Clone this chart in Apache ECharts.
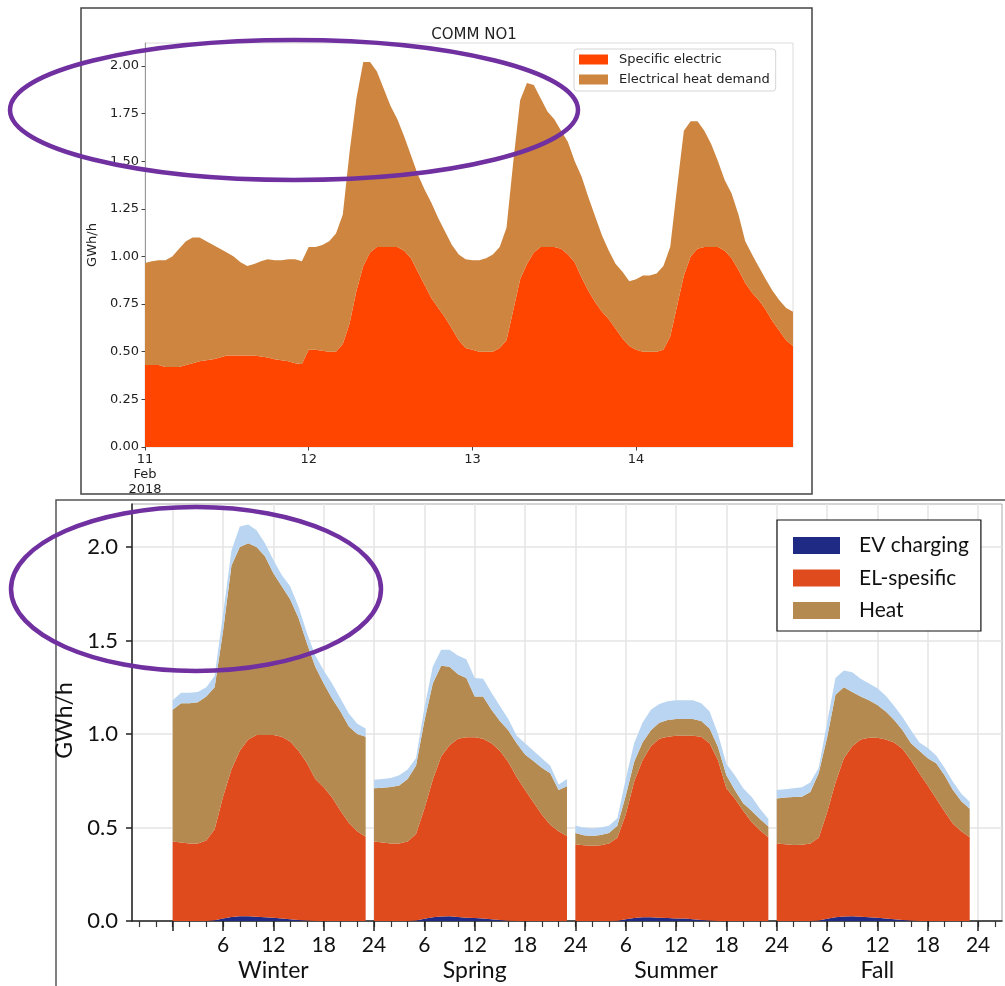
<!DOCTYPE html>
<html><head><meta charset="utf-8">
<script src="https://cdn.jsdelivr.net/npm/echarts@6/dist/echarts.min.js"></script>
<style>html,body{margin:0;padding:0;background:#fff}#c{width:1005px;height:986px}</style>
</head><body><div id="c"></div>
<script>
// ---------------- TOP CHART (COMM NO1) ----------------
const topTitle = 'COMM NO1';
const topDays = ['11', '12', '13', '14'];
const topMonth = 'Feb', topYear = '2018';
const topYTicks = [0, 0.25, 0.5, 0.75, 1.0, 1.25, 1.5, 1.75, 2.0];
// hourly GWh/h, one array per day
const spec11 = [0.43,0.43,0.43,0.42,0.42,0.42,0.43,0.44,0.45,0.455,0.46,0.47,0.48,0.48,0.48,0.48,0.48,0.475,0.47,0.46,0.455,0.45,0.44,0.435];
const spec12 = [0.51,0.51,0.505,0.50,0.50,0.54,0.65,0.82,0.95,1.02,1.05,1.05,1.05,1.05,1.03,0.99,0.92,0.85,0.78,0.73,0.68,0.62,0.56,0.52];
const spec13 = [0.51,0.50,0.50,0.50,0.52,0.56,0.72,0.88,0.96,1.02,1.05,1.05,1.05,1.04,1.01,0.97,0.89,0.82,0.76,0.71,0.67,0.62,0.57,0.53];
const spec14 = [0.51,0.50,0.50,0.50,0.51,0.58,0.74,0.90,1.00,1.04,1.05,1.05,1.05,1.03,0.99,0.93,0.86,0.81,0.77,0.72,0.66,0.61,0.56,0.53];
const heat11 = [0.535,0.545,0.55,0.56,0.58,0.62,0.65,0.66,0.65,0.625,0.60,0.57,0.54,0.52,0.49,0.47,0.48,0.50,0.515,0.52,0.525,0.535,0.545,0.54];
const heat12 = [0.54,0.54,0.555,0.58,0.62,0.68,0.90,1.01,1.07,1.00,0.92,0.83,0.74,0.67,0.60,0.54,0.51,0.50,0.50,0.47,0.45,0.44,0.45,0.465];
const heat13 = [0.47,0.48,0.49,0.51,0.53,0.59,0.78,0.94,0.95,0.88,0.78,0.71,0.67,0.62,0.59,0.53,0.53,0.49,0.45,0.40,0.36,0.34,0.35,0.34];
const heat14 = [0.37,0.40,0.40,0.41,0.44,0.47,0.62,0.76,0.71,0.67,0.61,0.54,0.45,0.37,0.34,0.29,0.22,0.20,0.175,0.16,0.16,0.16,0.17,0.18];

// ---------------- BOTTOM CHART (seasonal profiles) ----------------
const seasons = ['Winter', 'Spring', 'Summer', 'Fall'];
const hourTickLabels = [6, 12, 18, 24];
const bottomYTicks = [0, 0.5, 1.0, 1.5, 2.0];
const evWinter = [0,0,0,0,0,0.004,0.014,0.022,0.025,0.025,0.023,0.02,0.017,0.014,0.01,0.006,0.003,0,0,0,0,0,0,0];
const evSpring = [0,0,0,0,0,0.003,0.012,0.02,0.024,0.025,0.022,0.018,0.016,0.013,0.009,0.005,0.002,0,0,0,0,0,0,0];
const evSummer = [0,0,0,0,0,0.002,0.01,0.016,0.02,0.02,0.018,0.016,0.014,0.013,0.01,0.006,0.003,0,0,0,0,0,0,0];
const evFall   = [0,0,0,0,0,0.003,0.012,0.02,0.024,0.025,0.023,0.02,0.017,0.014,0.01,0.006,0.003,0,0,0,0,0,0,0];
const elWinter = [0.425,0.42,0.415,0.415,0.43,0.486,0.651,0.788,0.885,0.945,0.972,0.975,0.978,0.971,0.95,0.904,0.842,0.76,0.715,0.66,0.59,0.525,0.48,0.45];
const elSpring = [0.425,0.42,0.415,0.415,0.425,0.462,0.588,0.735,0.856,0.915,0.953,0.964,0.966,0.962,0.941,0.905,0.848,0.77,0.70,0.635,0.57,0.515,0.48,0.455];
const elSummer = [0.41,0.405,0.403,0.405,0.415,0.443,0.56,0.729,0.84,0.915,0.957,0.969,0.976,0.977,0.98,0.979,0.947,0.86,0.71,0.655,0.59,0.53,0.485,0.448];
const elFall   = [0.415,0.41,0.406,0.408,0.415,0.442,0.568,0.72,0.846,0.91,0.947,0.96,0.963,0.956,0.945,0.914,0.857,0.79,0.725,0.655,0.585,0.52,0.48,0.448];
const heatWinter = [0.705,0.745,0.75,0.755,0.77,0.76,0.885,1.09,1.09,1.05,1.005,0.955,0.865,0.805,0.76,0.71,0.64,0.60,0.555,0.53,0.53,0.515,0.52,0.535];
const heatSpring = [0.285,0.293,0.302,0.31,0.335,0.365,0.47,0.515,0.485,0.42,0.345,0.318,0.218,0.225,0.18,0.16,0.17,0.18,0.19,0.22,0.25,0.275,0.22,0.265];
const heatSummer = [0.06,0.053,0.052,0.055,0.055,0.065,0.10,0.105,0.095,0.085,0.085,0.09,0.09,0.09,0.09,0.085,0.08,0.07,0.07,0.045,0.04,0.06,0.06,0.057];
const heatFall   = [0.24,0.25,0.257,0.257,0.275,0.345,0.40,0.47,0.38,0.29,0.23,0.20,0.175,0.15,0.12,0.10,0.09,0.12,0.145,0.188,0.195,0.18,0.16,0.152];
const otherWinter = [0.05,0.055,0.055,0.055,0.05,0.06,0.09,0.08,0.11,0.10,0.09,0.07,0.07,0.06,0.07,0.06,0.055,0.06,0.07,0.08,0.07,0.07,0.055,0.045];
const otherSpring = [0.045,0.047,0.048,0.055,0.05,0.04,0.07,0.09,0.085,0.09,0.10,0.10,0.10,0.095,0.09,0.08,0.06,0.04,0.06,0.055,0.05,0.04,0.03,0.04];
const otherSummer = [0.04,0.042,0.041,0.04,0.04,0.04,0.09,0.10,0.105,0.11,0.10,0.10,0.10,0.10,0.10,0.095,0.09,0.07,0.06,0.08,0.08,0.075,0.055,0.04];
const otherFall   = [0.045,0.045,0.047,0.05,0.05,0.03,0.08,0.09,0.09,0.105,0.095,0.09,0.09,0.085,0.075,0.07,0.07,0.045,0.055,0.042,0.04,0.045,0.04,0.038];

// ---------------- styling ----------------
const C = { spec:'#FF4500', heatTop:'#CD853F', ev:'#1E2A84', el:'#DF4B1D', heat:'#B48A51', other:'#B9D5F1', purple:'#7030A0' };
const FT = 'DejaVu Sans', FB = 'Lato';

const specDays = [spec11, spec12, spec13, spec14];
const heatDays = [heat11, heat12, heat13, heat14];
const evS = [evWinter, evSpring, evSummer, evFall];
const elS = [elWinter, elSpring, elSummer, elFall];
const heatS = [heatWinter, heatSpring, heatSummer, heatFall];
const otherS = [otherWinter, otherSpring, otherSummer, otherFall];

// data rows are [value, hour] so that the value column is the one ECharts stacks
const toVH = (days) => days.flatMap((arr, d) => arr.map((v, h) => [v, d * 24 + h]));
const dayStarts = topDays.map((_, d) => d * 24);

const series = [];
const areaBase = { type:'line', showSymbol:false, symbol:'none', lineStyle:{width:0}, silent:true, animation:false,
  dimensions:['value','hour'], encode:{ x:'hour', y:'value' } };
series.push(Object.assign({}, areaBase, { name:'Specific electric', xAxisIndex:0, yAxisIndex:0, stack:'top',
  data: toVH(specDays), itemStyle:{color:C.spec}, areaStyle:{color:C.spec, opacity:1} }));
series.push(Object.assign({}, areaBase, { name:'Electrical heat demand', xAxisIndex:0, yAxisIndex:0, stack:'top',
  data: toVH(heatDays), itemStyle:{color:C.heatTop}, areaStyle:{color:C.heatTop, opacity:1} }));

seasons.forEach((s, i) => {
  const layers = [['EV charging', evS[i], C.ev], ['EL-spesific', elS[i], C.el], ['Heat', heatS[i], C.heat], ['Other', otherS[i], C.other]];
  layers.forEach(([name, arr, col]) => {
    series.push(Object.assign({}, areaBase, { name, xAxisIndex:1, yAxisIndex:1, stack:'season' + i,
      data: arr.map((v, h) => [v, i * 24 + h]), itemStyle:{color:col}, areaStyle:{color:col, opacity:1} }));
  });
});

// bottom axis tick positions
const minorTicks = []; for (let h = -4; h <= 98; h += 2) minorTicks.push(h);
const majorTicks = []; for (let h = 0; h <= 96; h += 6) majorTicks.push(h);
const labelTicks = seasons.flatMap((s, i) => hourTickLabels.map(t => i * 24 + t));

const chart = echarts.init(document.getElementById('c'), null, { renderer:'canvas' });
chart.setOption({
  animation:false,
  backgroundColor:'#fff',
  textStyle:{ fontFamily:FT },
  title:{ text:topTitle, left:469, top:23, textAlign:'center',
    textStyle:{ fontFamily:FT, fontSize:15, fontWeight:'normal', color:'#222' } },
  legend:[
    { data:['Specific electric','Electrical heat demand'], orient:'vertical', left:574, top:49,
      itemWidth:29, itemHeight:10, itemGap:7, padding:[4,6,5,5], icon:'rect', selectedMode:false,
      borderColor:'#d5d5d5', borderWidth:1, borderRadius:3, backgroundColor:'rgba(255,255,255,0.85)',
      textStyle:{ fontFamily:FT, fontSize:13, color:'#222', padding:[0,0,0,6] } },
    { data:['EV charging','EL-spesific','Heat'], orient:'vertical', left:777, top:520,
      itemWidth:47, itemHeight:17, itemGap:11.5, padding:[15,12,10,16], icon:'rect', selectedMode:false,
      borderColor:'#111', borderWidth:1.2, backgroundColor:'#fff',
      textStyle:{ fontFamily:FB, fontSize:21, color:'#111', padding:[0,0,0,14] } }
  ],
  grid:[
    { left:145, top:43, width:648, height:404, show:true, borderColor:'#dcdcdc', borderWidth:1, backgroundColor:'transparent' },
    { left:132, top:504, right:3, height:417, show:true, borderColor:'#aaa', borderWidth:1, backgroundColor:'transparent' }
  ],
  xAxis:[
    { gridIndex:0, type:'value', min:0, max:95,
      axisLine:{ show:false }, splitLine:{ show:false },
      axisTick:{ show:true, customValues:dayStarts, length:3.5, lineStyle:{ color:'#444' } },
      axisLabel:{ customValues:dayStarts, fontFamily:FT, fontSize:13, color:'#222', lineHeight:15, margin:5,
        formatter:(v) => v === 0 ? topDays[0] + '\n' + topMonth + '\n' + topYear : topDays[Math.round(v / 24)] } },
    { gridIndex:1, type:'value', min:-4.85, max:98.85, position:'bottom',
      axisLine:{ show:true, onZero:false, lineStyle:{ color:'#222', width:1.5 } }, splitLine:{ show:false },
      axisTick:{ show:true, customValues:minorTicks, length:6, lineStyle:{ color:'#333', width:1.2 } },
      axisLabel:{ customValues:labelTicks, fontFamily:FB, fontSize:21, color:'#111', lineHeight:25, margin:12,
        formatter:(v) => {
          const h = ((v - 1) % 24) + 1;
          return (v % 24 === 12) ? h + '\n{s|' + seasons[(v - 12) / 24] + '}' : String(h);
        },
        rich:{ s:{ fontFamily:FB, fontSize:23, color:'#111', lineHeight:25 } } } },
    { gridIndex:1, type:'value', min:-4.85, max:98.85, position:'bottom',
      axisLine:{ show:false, onZero:false },
      axisTick:{ show:true, customValues:majorTicks, length:10, lineStyle:{ color:'#222', width:1.5 } },
      axisLabel:{ show:false },
      splitLine:{ show:true, lineStyle:{ color:'#e4e4e4', width:1.5 } } }
  ],
  yAxis:[
    { gridIndex:0, type:'value', min:0, max:2.12, name:'GWh/h', nameLocation:'middle', nameGap:37,
      nameTextStyle:{ fontFamily:FT, fontSize:13, color:'#222' },
      axisLine:{ show:true, onZero:false, lineStyle:{ color:'#999' } },
      axisTick:{ show:true, customValues:topYTicks, length:3.5, lineStyle:{ color:'#444' } },
      axisLabel:{ customValues:topYTicks, fontFamily:FT, fontSize:13, color:'#222', margin:6, formatter:(v) => v.toFixed(2) },
      splitLine:{ show:false } },
    { gridIndex:1, type:'value', min:0, max:2.23, name:'GWh/h', nameLocation:'middle', nameGap:41,
      nameTextStyle:{ fontFamily:FB, fontSize:23, color:'#111', padding:[0,16,0,0] },
      axisLine:{ show:true, onZero:false, lineStyle:{ color:'#222', width:1.5 } },
      axisTick:{ show:true, customValues:bottomYTicks, length:6, lineStyle:{ color:'#222', width:1.5 } },
      axisLabel:{ customValues:bottomYTicks, fontFamily:FB, fontSize:22, color:'#111', margin:14, formatter:(v) => v.toFixed(1) },
      splitLine:{ show:true, lineStyle:{ color:'#e4e4e4', width:1.5 } } }
  ],
  series,
  graphic:[
    { type:'rect', z:-1, shape:{ x:81, y:8, width:731, height:486 }, style:{ fill:null, stroke:'#444', lineWidth:1.5 } },
    { type:'polyline', z:-1, shape:{ points:[[56,990],[56,500],[1010,500]] }, style:{ fill:null, stroke:'#555', lineWidth:1.5 } },
    { type:'ellipse', z:100, shape:{ cx:294, cy:110, rx:284, ry:70 }, style:{ fill:null, stroke:C.purple, lineWidth:4.5 } },
    { type:'ellipse', z:100, shape:{ cx:196, cy:589, rx:185, ry:82 }, style:{ fill:null, stroke:C.purple, lineWidth:4.5 } }
  ]
});
</script>
</body></html>
